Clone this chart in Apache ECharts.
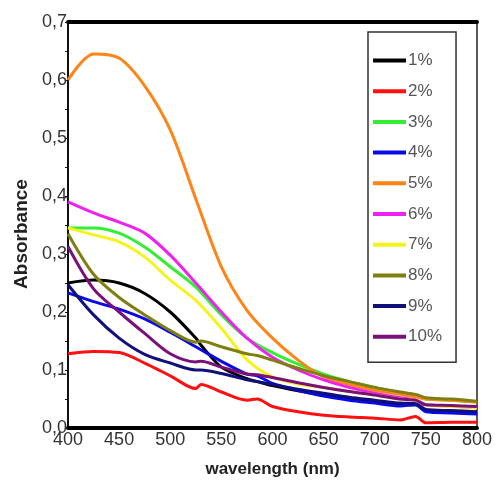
<!DOCTYPE html>
<html>
<head>
<meta charset="utf-8">
<script src="https://cdn.jsdelivr.net/npm/echarts@6/dist/echarts.min.js"></script>
<style>
html,body{margin:0;padding:0;background:#fff;}
#chart{width:495px;height:490px;}
</style>
</head>
<body>
<div id="chart"></div>
<script>
const wavelengths = [400,425,450,475,500,525,530,550,575,585,600,625,650,675,700,725,740,750,775,800];
const seriesNames = ['1%','2%','3%','4%','5%','6%','7%','8%','9%','10%'];
const seriesColors = ['#000000','#ff1010','#33ee33','#0a0ae6','#ff8418','#f020f0','#f4f41c','#7f7f10','#10107a','#7a107a'];
const s1 = [0.25,0.255,0.25,0.232,0.2,0.155,0.143,0.105,0.085,0.08,0.073,0.064,0.056,0.05,0.045,0.04,0.04,0.03,0.028,0.026];
const s2 = [0.128,0.132,0.13,0.112,0.09,0.068,0.075,0.062,0.048,0.05,0.037,0.028,0.022,0.019,0.017,0.014,0.02,0.009,0.01,0.01];
const s3 = [0.345,0.345,0.336,0.312,0.278,0.243,null,0.195,0.155,null,0.13,0.11,0.093,0.08,0.07,0.06,0.057,0.05,0.048,0.045];
const s4 = [0.233,0.218,0.205,0.188,0.165,0.14,0.135,0.115,0.093,0.09,0.077,0.065,0.055,0.048,0.043,0.038,0.04,0.028,0.026,0.024];
const s5 = [0.60,0.645,0.638,0.59,0.514,0.395,null,0.278,0.203,null,0.155,0.117,0.088,0.075,0.065,0.058,0.054,0.05,0.048,0.045];
const s6 = [0.39,0.371,0.355,0.336,0.298,0.25,null,0.2,0.155,null,0.122,0.1,0.083,0.07,0.06,0.052,0.048,0.04,0.038,0.035];
const s7 = [0.345,0.333,0.321,0.295,0.255,0.22,null,0.172,0.118,null,0.088,0.076,0.07,0.063,0.057,0.05,0.048,0.04,0.037,0.035];
const s8 = [0.335,0.265,0.225,0.195,0.168,0.148,0.15,0.14,0.128,0.125,0.117,0.103,0.09,0.08,0.07,0.062,0.058,0.052,0.05,0.046];
const s9 = [0.247,0.195,0.155,0.127,0.112,0.1,0.1,0.094,0.083,0.08,0.075,0.067,0.06,0.053,0.048,0.043,0.042,0.032,0.03,0.028];
const s10 = [0.313,0.24,0.2,0.163,0.128,0.114,0.115,0.105,0.093,0.092,0.087,0.078,0.07,0.063,0.057,0.05,0.048,0.04,0.039,0.037];
const allValues = [s1,s2,s3,s4,s5,s6,s7,s8,s9,s10];
const xTickLabels = ['400','450','500','550','600','650','700','750','800'];
const yTickLabels = ['0,0','0,1','0,2','0,3','0,4','0,5','0,6','0,7'];

const FONT = '"Liberation Sans", Arial, sans-serif';
const chart = echarts.init(document.getElementById('chart'), null, {renderer:'canvas'});

const series = allValues.map((vals, i) => ({
  name: seriesNames[i],
  type: 'line',
  xAxisIndex: 0,
  yAxisIndex: 0,
  smooth: 0.3,
  connectNulls: true,
  symbol: 'none',
  color: seriesColors[i],
  lineStyle: {width: 3, color: seriesColors[i]},
  data: wavelengths.map((w, j) => [w, vals[j]]).filter(p => p[1] !== null)
}));

const option = {
  animation: false,
  backgroundColor: '#ffffff',
  grid: {left: 68, right: 15, top: 22, bottom: 62, containLabel: false},
  xAxis: [{
    type: 'value', min: 400, max: 800, interval: 50, position: 'bottom',
    name: 'wavelength (nm)', nameLocation: 'middle', nameGap: 33,
    nameTextStyle: {fontFamily: FONT, fontWeight: 'bold', fontSize: 17, color: '#222'},
    axisLine: {show: true, onZero: false, lineStyle: {color: '#000', width: 4}},
    axisTick: {show: false},
    axisLabel: {fontFamily: FONT, fontSize: 18, color: '#333', margin: 3,
      formatter: (v) => { const k = Math.round((v - 400) / 50); return xTickLabels[k] ?? ''; }},
    splitLine: {show: false}
  }, {
    type: 'value', min: 400, max: 800, position: 'top',
    axisLine: {show: true, onZero: false, lineStyle: {color: '#000', width: 4}},
    axisTick: {show: false}, axisLabel: {show: false}, splitLine: {show: false}
  }],
  yAxis: [{
    type: 'value', min: 0, max: 0.7, interval: 0.1, position: 'left',
    name: 'Absorbance', nameLocation: 'middle', nameGap: 27, nameRotate: 90,
    nameTextStyle: {fontFamily: FONT, fontWeight: 'bold', fontSize: 19, color: '#222', padding: [0, 18, 0, 0]},
    axisLine: {show: true, onZero: false, lineStyle: {color: '#111', width: 2}},
    axisTick: {show: true, length: 3, lineStyle: {color: '#111'}},
    minorTick: {show: true, splitNumber: 2, length: 3, lineStyle: {color: '#111'}},
    axisLabel: {fontFamily: FONT, fontSize: 18, color: '#333', margin: 1,
      formatter: (v) => yTickLabels[Math.round(v * 10)] ?? ''},
    splitLine: {show: false}
  }, {
    type: 'value', min: 0, max: 0.7, position: 'right',
    axisLine: {show: true, onZero: false, lineStyle: {color: '#222', width: 1.5}},
    axisTick: {show: false}, axisLabel: {show: false}, splitLine: {show: false}
  }],
  legend: {
    orient: 'vertical',
    left: 368, top: 32,
    data: seriesNames,
    icon: 'rect',
    itemWidth: 33, itemHeight: 4, itemGap: 13.7,
    padding: [20, 14, 17, 5],
    backgroundColor: '#ffffff',
    borderColor: '#333', borderWidth: 1.5,
    textStyle: {fontFamily: FONT, fontSize: 17, lineHeight: 17, color: '#555', padding: [0,0,0,-3]}
  },
  series: series
};
chart.setOption(option);
</script>
</body>
</html>
